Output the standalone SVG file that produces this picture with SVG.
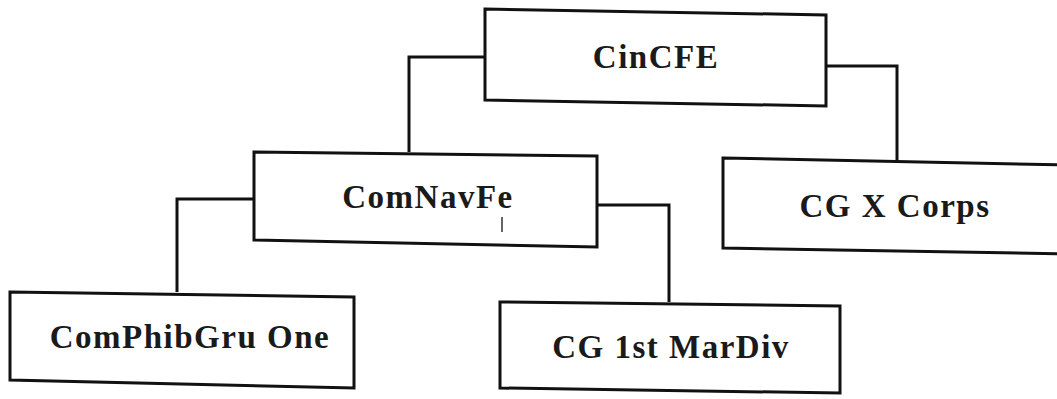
<svg xmlns="http://www.w3.org/2000/svg" width="1057" height="399" viewBox="0 0 1057 399">
<style>
.box{fill:#fff;stroke:#111;stroke-width:3;stroke-linejoin:miter}
.conn{fill:none;stroke:#111;stroke-width:3}
text{font-family:'Liberation Serif','Times New Roman',serif;font-weight:bold;font-size:33px;letter-spacing:1.5px;fill:#1a1a1a;text-anchor:middle}
</style>
<rect width="1057" height="399" fill="#fff"/>
<g id="connectors">
<polyline class="conn" points="485,57 409,57 409,152"/>
<polyline class="conn" points="826,66 897,66 897,161"/>
<polyline class="conn" points="254,199 177,199 177,292"/>
<polyline class="conn" points="597,205 669,205 669,302"/>
</g>
<g id="cincfe">
<polygon class="box" points="485,9 826,15 826,106 485,100"/>
<text x="656" y="68">CinCFE</text>
</g>
<g id="comnavfe">
<polygon class="box" points="254,152 597,156 597,247 254,240"/>
<text x="428" y="208">ComNavFe</text>
<line x1="502" y1="217" x2="502" y2="232" stroke="#333" stroke-width="1.5"/>
</g>
<g id="cgxcorps">
<polygon class="box" points="723,158 1070,165 1070,254 723,248"/>
<text x="895" y="217">CG X Corps</text>
</g>
<g id="comphibgru">
<polygon class="box" points="10,292 354,297 354,388 10,380"/>
<text x="190" y="348">ComPhibGru One</text>
</g>
<g id="cg1stmardiv">
<polygon class="box" points="500,302 840,306 840,393 500,388"/>
<text x="671" y="358">CG 1st MarDiv</text>
</g>
</svg>
